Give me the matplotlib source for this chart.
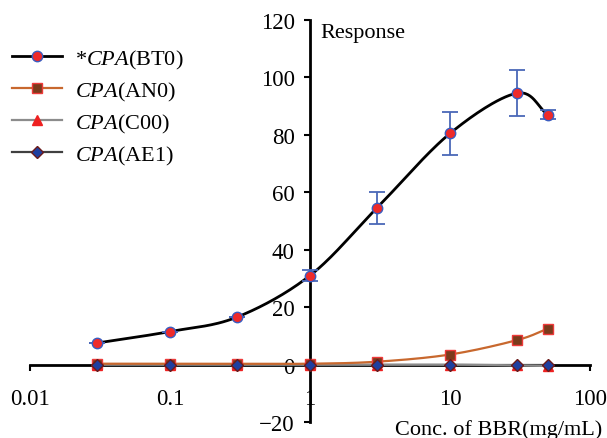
import numpy as np
import matplotlib
matplotlib.use('Agg')
import matplotlib.pyplot as plt
from matplotlib.lines import Line2D

plt.rcParams['font.family'] = 'Liberation Serif'
plt.rcParams['mathtext.fontset'] = 'custom'
plt.rcParams['mathtext.rm'] = 'Liberation Serif'
plt.rcParams['mathtext.it'] = 'Liberation Serif:italic'

conc = [0.03, 0.1, 0.3, 1, 3, 10, 30, 50]
bt0 = [7.5, 11.5, 16.5, 31, 54.5, 80.5, 94.5, 87]
bt0_err = [0, 0, 0, 2, 5.5, 7.5, 8, 1.5]
an0 = [0.3, 0.3, 0.3, 0.3, 1.0, 3.5, 8.5, 12.5]
c00 = [0, 0, 0, 0, 0, 0, -0.3, -0.5]
ae1 = [0, 0, 0, 0, 0, 0, 0, 0]

xticks = [0.01, 0.1, 1, 10, 100]
yticks = [-20, 0, 20, 40, 60, 80, 100, 120]


def smooth(xs, ys, n=30):
    # catmull-rom through the points in log-x space, like Excel's smoothed line
    lx = np.log10(xs)
    ys = np.asarray(ys, float)
    px = np.concatenate([[2 * lx[0] - lx[1]], lx, [2 * lx[-1] - lx[-2]]])
    py = np.concatenate([[2 * ys[0] - ys[1]], ys, [2 * ys[-1] - ys[-2]]])
    outx, outy = [], []
    t = np.linspace(0, 1, n)
    for i in range(1, len(px) - 2):
        for p, out in ((px, outx), (py, outy)):
            p0, p1, p2, p3 = p[i - 1], p[i], p[i + 1], p[i + 2]
            out.extend(0.5 * (2 * p1 + (-p0 + p2) * t
                              + (2 * p0 - 5 * p1 + 4 * p2 - p3) * t ** 2
                              + (-p0 + 3 * p1 - 3 * p2 + p3) * t ** 3))
    return 10 ** np.array(outx), np.array(outy)


fig = plt.figure(figsize=(6.07, 4.39), dpi=100)
ax = fig.add_axes([30 / 607, 1 - 423 / 439, 560 / 607, 402 / 439])

series = [
    (r'*$\mathit{CPA}$(BT0)', bt0, '#000000', 2.0, 'o', '#ee2a2a', '#3a5cc0', 7.5),
    (r'$\mathit{CPA}$(AN0)', an0, '#c8682e', 1.6, 's', '#7a3b1c', '#ee3a3a', 6.5),
    (r'$\mathit{CPA}$(C00)', c00, '#8c8c8c', 1.6, '^', '#ee2020', '#ee2020', 6.5),
    (r'$\mathit{CPA}$(AE1)', ae1, '#404040', 1.6, 'D', '#1f3f9f', '#6a1a1a', 6),
]

# lines first, markers on top (AE1 last like the original)
for lab, ys, lc, lw, mk, mf, me, ms in reversed(series):
    sx, sy = smooth(conc, ys)
    ax.plot(sx, sy, color=lc, lw=lw, zorder=3)

handles = []
for k, (lab, ys, lc, lw, mk, mf, me, ms) in enumerate(series):
    ax.plot(conc, ys, ls='none', marker=mk, ms=ms, mfc=mf, mec=me, mew=1,
            zorder=5 + k if k else 9)
    handles.append(Line2D([], [], color=lc, lw=lw, marker=mk, ms=ms,
                          mfc=mf, mec=me, mew=1, label=lab))

ax.errorbar(conc, bt0, yerr=bt0_err, fmt='none', ecolor='#4a68b8',
            elinewidth=1.3, capsize=6, capthick=1.3, zorder=4)

ax.set_xscale('log')
ax.set_xlim(0.01, 100)
ax.set_ylim(-20, 120)
ax.spines['left'].set_position(('data', 1))
ax.spines['bottom'].set_position(('data', 0))
ax.spines['top'].set_visible(False)
ax.spines['right'].set_visible(False)
for s in ('left', 'bottom'):
    ax.spines[s].set_linewidth(2)
ax.set_xticks(xticks)
ax.set_xticklabels(['0.01', '0.1', '1', '10', '100'])
ax.set_yticks(yticks)
ax.set_yticklabels([str(v) if v >= 0 else '\u221220' for v in yticks])
ax.minorticks_off()
ax.tick_params(axis='both', direction='out', length=4, width=1.5, labelsize=16.5)
ax.tick_params(axis='x', pad=13)
ax.tick_params(axis='y', pad=7)
ax.patch.set_visible(False)

ax.text(1.18, 118.8, 'Response', fontsize=16, va='top', ha='left')
ax.text(122, -22.3, 'Conc. of BBR(mg/mL)', fontsize=16, va='center',
        ha='right', clip_on=False)

fig.legend(handles=handles, loc='upper left', bbox_to_anchor=(0.02, 0.889),
           frameon=False, fontsize=16, handlelength=2.25, labelspacing=0.4,
           handletextpad=0.6, borderpad=0, borderaxespad=0)

fig.savefig('out.png', dpi=100)
